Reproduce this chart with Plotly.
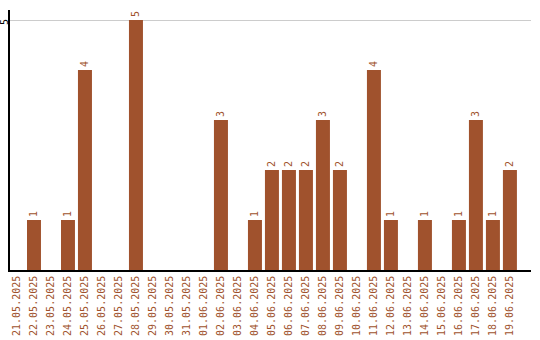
import plotly.graph_objects as go

dates = ["21.05.2025", "22.05.2025", "23.05.2025", "24.05.2025", "25.05.2025",
         "26.05.2025", "27.05.2025", "28.05.2025", "29.05.2025", "30.05.2025",
         "31.05.2025", "01.06.2025", "02.06.2025", "03.06.2025", "04.06.2025",
         "05.06.2025", "06.06.2025", "07.06.2025", "08.06.2025", "09.06.2025",
         "10.06.2025", "11.06.2025", "12.06.2025", "13.06.2025", "14.06.2025",
         "15.06.2025", "16.06.2025", "17.06.2025", "18.06.2025", "19.06.2025"]
counts = [0, 1, 0, 1, 4, 0, 0, 5, 0, 0, 0, 0, 3, 0, 1,
          2, 2, 2, 3, 2, 0, 4, 1, 0, 1, 0, 1, 3, 1, 2]
y_ticks = [5]

COLOR = "#A0522D"
FONT = "DejaVu Sans Mono"

labels = [str(v) if v > 0 else "" for v in counts]

fig = go.Figure(go.Bar(
    x=list(range(len(dates))),
    y=counts,
    marker=dict(color=COLOR, line=dict(width=0)),
    width=14 / 17,
    text=labels,
    textposition="outside",
    textangle=-90,
    textfont=dict(family=FONT, size=10, color=COLOR),
    cliponaxis=False,
    constraintext="none",
    hoverinfo="skip",
))

fig.update_layout(
    width=540, height=340,
    margin=dict(l=10, r=9, t=10, b=70, autoexpand=False),
    plot_bgcolor="white", paper_bgcolor="white",
    showlegend=False,
    font=dict(family=FONT, size=10),
)
fig.update_xaxes(
    tickmode="array",
    tickvals=list(range(len(dates))),
    ticktext=dates,
    tickangle=-90,
    tickfont=dict(family=FONT, size=10, color=COLOR),
    range=[-0.41, 30.24],
    showgrid=False,
    showline=True, linecolor="black", linewidth=1.5,
    ticks="",
    zeroline=False,
    automargin=False,
)
fig.update_yaxes(
    range=[0, 5.2],
    tickmode="array",
    tickvals=y_ticks,
    showticklabels=False,
    showgrid=True, gridcolor="#cccccc", gridwidth=1,
    showline=True, linecolor="black", linewidth=1.5,
    ticks="",
    zeroline=False,
    automargin=False,
)
for t in y_ticks:
    fig.add_annotation(
        x=0, xref="paper", xanchor="center", xshift=-6,
        y=t, yref="y", yanchor="middle", yshift=-2,
        text=str(t), textangle=-90, showarrow=False,
        borderpad=0,
        font=dict(family=FONT, size=10, color="black"),
    )

fig.write_html("out.html")
